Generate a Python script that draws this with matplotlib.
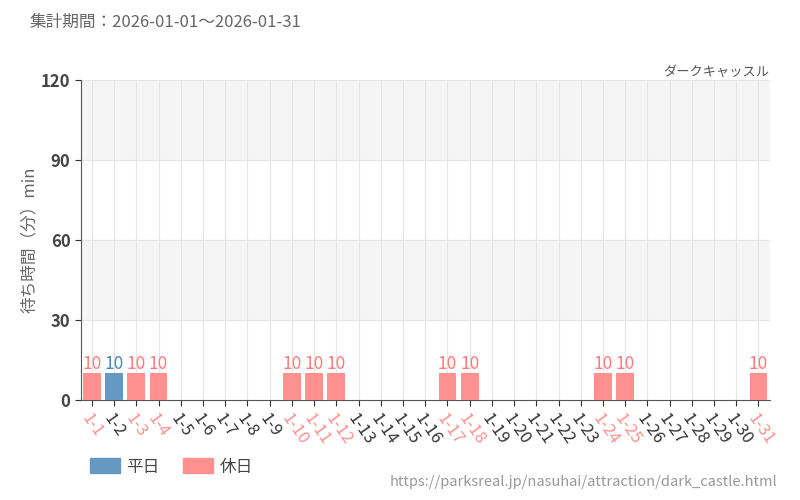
import numpy as np
import matplotlib
matplotlib.use('Agg')
import matplotlib.pyplot as plt
from matplotlib.patches import Patch

plt.rcParams['font.family'] = ['Noto Sans CJK JP', 'DejaVu Sans']

days = ['1-%d' % d for d in range(1, 32)]
# wait time in minutes, None = no data
wait = [10, 10, 10, 10, None, None, None, None, None, 10, 10, 10, None, None, None, None,
        10, 10, None, None, None, None, None, 10, 10, None, None, None, None, None, 10]
holiday = [1, 0, 1, 1, 0, 0, 0, 0, 0, 1, 1, 1, 0, 0, 0, 0,
           1, 1, 0, 0, 0, 0, 0, 1, 1, 0, 0, 0, 0, 0, 1]

blue = '#6699c2'
pink = '#ff9090'
blue_txt = '#4a86b8'
pink_txt = '#ff7b7b'

fig = plt.figure(figsize=(8, 5), dpi=100)
ax = fig.add_axes([0.101, 0.2, 0.861, 0.64])

x = np.arange(len(days))
for i in range(len(days)):
    if wait[i] is None:
        continue
    c = pink if holiday[i] else blue
    ax.bar(x[i], wait[i], width=0.8, color=c, zorder=3)
    ax.text(x[i], wait[i] + 0.3, str(wait[i]), ha='center', va='bottom',
            fontsize=12.5, color=pink_txt if holiday[i] else blue_txt, zorder=4)

# grey bands
ax.axhspan(90, 120, color='#f5f5f5', zorder=0)
ax.axhspan(30, 60, color='#f5f5f5', zorder=0)
for y in [30, 60, 90, 120]:
    ax.axhline(y, color='#e6e6e6', lw=0.8, zorder=1)
for xi in x:
    ax.axvline(xi, color='#e6e6e6', lw=0.8, zorder=1)

ax.set_xlim(-0.5, len(days) - 0.5)
ax.set_ylim(0, 120)
ax.set_yticks([0, 30, 60, 90, 120])
ax.set_yticklabels(['0', '30', '60', '90', '120'], fontsize=12, fontweight='bold', color='#444444')
ax.set_xticks(x)
ax.set_xticklabels(days, rotation=-55, ha='left', va='top', rotation_mode='anchor', fontsize=12)
for lbl, h in zip(ax.get_xticklabels(), holiday):
    lbl.set_color(pink if h else '#333333')

for s in ['top', 'right']:
    ax.spines[s].set_visible(False)
ax.spines['left'].set_color('#555555')
ax.spines['bottom'].set_color('#555555')
ax.tick_params(axis='both', color='#333333', length=4)

ax.set_ylabel('待ち時間（分）min', fontsize=12, color='#666666')
ax.yaxis.set_label_coords(-0.062, 0.5)
ax.set_title('ダークキャッスル', loc='right', fontsize=9.5, color='#555555', pad=3)

fig.text(0.0375, 0.955, '集計期間：2026-01-01～2026-01-31', fontsize=12, color='#666666', va='center')

handles = [Patch(color=blue, label='平日'), Patch(color=pink, label='休日')]
fig.legend(handles=handles, loc='center left', bbox_to_anchor=(0.112, 0.066), ncol=2,
           frameon=False, fontsize=12, handlelength=1.8, handleheight=1.0, handletextpad=0.4,
           columnspacing=1.4, borderpad=0, borderaxespad=0, labelcolor='#444444')

fig.text(0.972, 0.036, 'https://parksreal.jp/nasuhai/attraction/dark_castle.html',
         ha='right', va='center', fontsize=10.5, color='#999999')

fig.savefig('out.png')
